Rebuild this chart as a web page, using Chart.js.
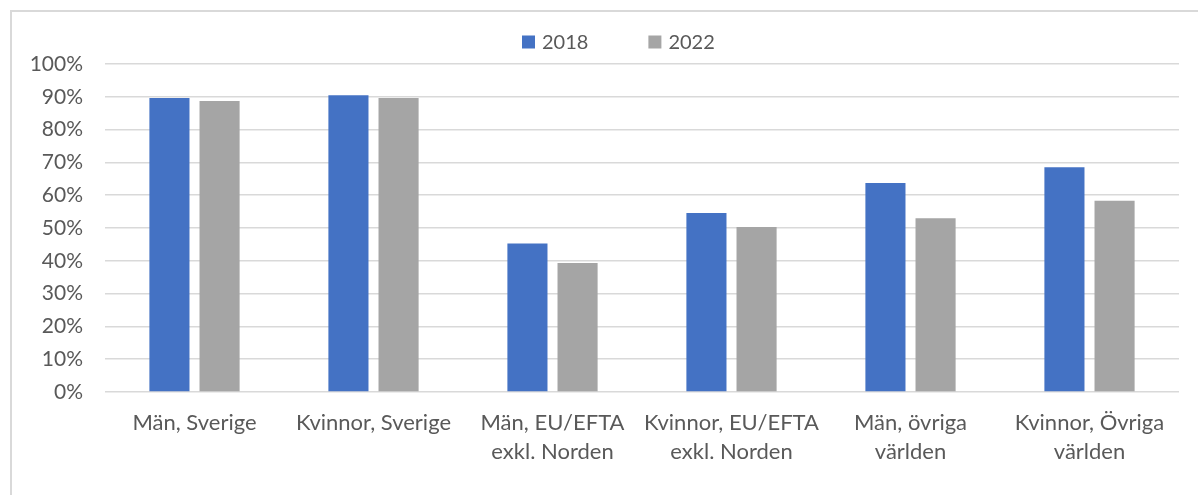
<!DOCTYPE html>
<html>
<head>
<meta charset="utf-8">
<script src="https://cdn.jsdelivr.net/npm/chart.js@4.4.0/dist/chart.umd.min.js"></script>
<style>
  html, body { margin: 0; padding: 0; background: #fff; overflow: hidden; }
  #frame { position: absolute; left: 10px; top: 10px; width: 1200px; height: 500px; border-top: 2px solid #d9d9d9; border-left: 2px solid #d9d9d9; box-sizing: border-box; }
  #wrap { position: absolute; left: 0; top: 0; width: 1198px; height: 495px; }
</style>
</head>
<body>
<div id="frame"></div>
<div id="wrap"><canvas id="myChart" width="1198" height="495"></canvas></div>
<script>
const categories = [
  ['Män, Sverige'],
  ['Kvinnor, Sverige'],
  ['Män, EU/EFTA', 'exkl. Norden'],
  ['Kvinnor, EU/EFTA', 'exkl. Norden'],
  ['Män, övriga', 'världen'],
  ['Kvinnor, Övriga', 'världen']
];
const values2018 = [89.6, 90.5, 45.3, 54.6, 63.7, 68.5];
const values2022 = [88.7, 89.6, 39.3, 50.3, 53.0, 58.3];
const seriesLabels = ['2018', '2022'];
const seriesColors = ['#4472C4', '#A5A5A5'];

const font = "Lato, 'Open Sans', sans-serif";
const textColor = '#595959';

// legend drawn by hand so the spacing matches the original
const topLegend = {
  id: 'topLegend',
  afterDraw(chart) {
    const c = chart.ctx;
    c.save();
    c.font = '20px ' + font;
    c.textBaseline = 'middle';
    const box = 13, gap = 7, between = 60;
    const items = chart.data.datasets.map(ds => ({
      label: ds.label, color: ds.backgroundColor,
      w: box + gap + c.measureText(ds.label).width
    }));
    let x = 522;
    const y = 42;
    items.forEach(it => {
      c.fillStyle = it.color;
      c.fillRect(x, y - box / 2, box, box);
      c.fillStyle = textColor;
      c.fillText(it.label, x + box + gap, y + 1);
      x += it.w + between;
    });
    c.restore();
  }
};

const ctx = document.getElementById('myChart').getContext('2d');

new Chart(ctx, {
  type: 'bar',
  data: {
    labels: categories,
    datasets: [{
      label: seriesLabels[0],
      data: values2018,
      backgroundColor: seriesColors[0],
      categoryPercentage: 0.56,
      barPercentage: 0.8
    }, {
      label: seriesLabels[1],
      data: values2022,
      backgroundColor: seriesColors[1],
      categoryPercentage: 0.56,
      barPercentage: 0.8
    }]
  },
  options: {
    responsive: false,
    animation: false,
    layout: { padding: { top: 64, right: 19, left: 0, bottom: 0 } },
    plugins: {
      legend: { display: false },
      tooltip: { enabled: false }
    },
    scales: {
      x: {
        grid: { display: false, drawTicks: false },
        border: { display: false },
        ticks: {
          color: textColor,
          font: { family: font, size: 22, lineHeight: 1.32 },
          padding: 16,
          maxRotation: 0,
          autoSkip: false
        },
        afterFit(scale) { scale.height = 103; }
      },
      y: {
        min: 0,
        max: 100,
        grid: { color: '#d9d9d9', lineWidth: 1.5, drawTicks: false },
        border: { display: false },
        ticks: {
          stepSize: 10,
          color: textColor,
          font: { family: font, size: 21 },
          padding: 22,
          callback: v => v + '%'
        },
        afterFit(scale) { scale.width = 105; }
      }
    }
  },
  plugins: [topLegend]
});
</script>
</body>
</html>
